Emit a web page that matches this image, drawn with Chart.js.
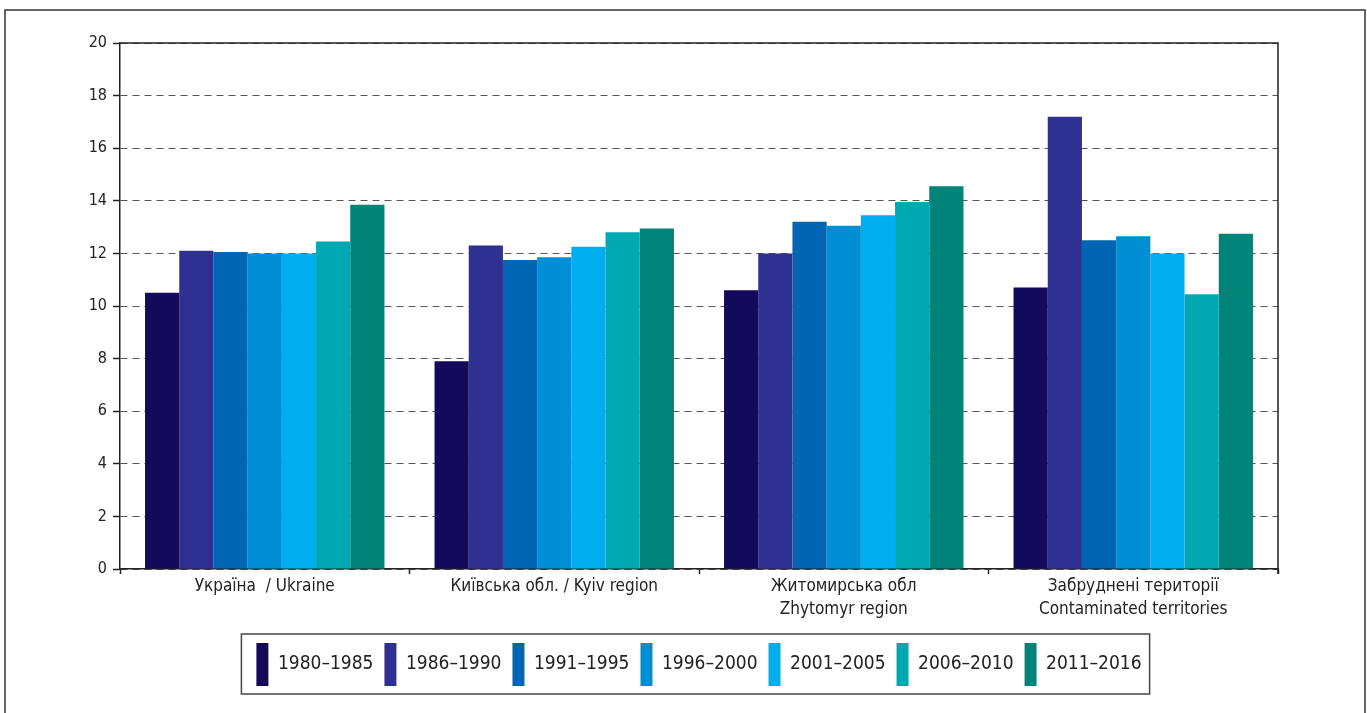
<!DOCTYPE html>
<html>
<head>
<meta charset="utf-8">
<script src="https://cdn.jsdelivr.net/npm/chart.js@4"></script>
<style>
    html, body { margin: 0; padding: 0; background: #fff; }
    #wrap { position: relative; width: 1367px; height: 713px; }
</style>
</head>
<body>
<div id="wrap"><canvas id="rateChart" width="1367" height="713"></canvas></div>
<script>
const regions = [
    ["Україна  / Ukraine"],
    ["Київська обл. / Kyiv region"],
    ["Житомирська обл", "Zhytomyr region"],
    ["Забруднені території", "Contaminated territories"]
];
const periods = ["1980–1985", "1986–1990", "1991–1995", "1996–2000", "2001–2005", "2006–2010", "2011–2016"];
const periodColors = ["#130a5c", "#2e3192", "#0066b3", "#008fd5", "#00aeef", "#00a9b2", "#008479"];

// one array per period, values for the four regions
const rates1980 = [10.5, 7.9, 10.6, 10.7];
const rates1986 = [12.1, 12.3, 12.0, 17.2];
const rates1991 = [12.05, 11.75, 13.2, 12.5];
const rates1996 = [12.0, 11.85, 13.05, 12.65];
const rates2001 = [12.0, 12.25, 13.45, 12.0];
const rates2006 = [12.45, 12.8, 13.95, 10.45];
const rates2011 = [13.85, 12.95, 14.55, 12.75];
const seriesValues = [rates1980, rates1986, rates1991, rates1996, rates2001, rates2006, rates2011];

const yTicks = [0, 2, 4, 6, 8, 10, 12, 14, 16, 18, 20];

const fontName = "'Liberation Sans Narrow', 'DejaVu Sans Condensed', sans-serif";
const inkColor = "#222";

// frames: outer border, top/right edge of plot, box round the legend
const framePlugin = {
    id: 'frames',
    afterDatasetsDraw(chart) {
        const ctx = chart.ctx;
        const area = chart.chartArea;
        ctx.save();
        ctx.strokeStyle = inkColor;
        ctx.lineWidth = 1.5;
        ctx.beginPath();
        ctx.moveTo(area.left, area.top);
        ctx.lineTo(area.right, area.top);
        ctx.lineTo(area.right, area.bottom + 5);
        ctx.stroke();
        ctx.restore();
    },
    afterDraw(chart) {
        const ctx = chart.ctx;
        ctx.save();
        ctx.strokeStyle = "#333";
        ctx.lineWidth = 1.5;
        ctx.strokeRect(5, 10, 1360, 760);

        const boxes = chart.legend.legendHitBoxes;
        if (boxes && boxes.length) {
            const first = boxes[0];
            const last = boxes[boxes.length - 1];
            const left = first.left - 15;
            const right = last.left + last.width + 8;
            const top = first.top - 9;
            const bottom = first.top + first.height + 8;
            ctx.lineWidth = 1.5;
            ctx.strokeStyle = "#444";
            ctx.strokeRect(left, top, right - left, bottom - top);
        }
        ctx.restore();
    }
};

new Chart('rateChart', {
    type: 'bar',
    data: {
        labels: regions,
        datasets: periods.map((period, i) => ({
            label: period,
            data: seriesValues[i],
            backgroundColor: periodColors[i],
            borderWidth: 0,
            categoryPercentage: 0.827,
            barPercentage: 1
        }))
    },
    options: {
        responsive: false,
        animation: false,
        layout: {
            padding: { top: 43, right: 89, bottom: 17, left: 0 }
        },
        scales: {
            x: {
                grid: {
                    drawOnChartArea: false,
                    drawTicks: true,
                    tickLength: 5,
                    tickColor: inkColor,
                    tickWidth: 1.5
                },
                border: { color: inkColor, width: 1.5 },
                ticks: {
                    color: inkColor,
                    padding: 2,
                    maxRotation: 0,
                    autoSkip: false,
                    font: { family: fontName, size: 17, lineHeight: 1.3 }
                },
                afterFit(scale) {
                    scale.height = 63;
                }
            },
            y: {
                min: 0,
                max: 20,
                afterBuildTicks(scale) {
                    scale.ticks = yTicks.map(v => ({ value: v }));
                },
                grid: {
                    color: "#555",
                    lineWidth: 1,
                    tickLength: 7,
                    tickColor: inkColor,
                    tickWidth: 1.5,
                    tickBorderDash: []
                },
                border: { color: inkColor, width: 1.5, dash: [7, 5] },
                ticks: {
                    color: inkColor,
                    padding: 6,
                    font: { family: fontName, size: 16 }
                },
                afterFit(scale) {
                    scale.width = 120;
                }
            }
        },
        plugins: {
            legend: {
                position: 'bottom',
                fullSize: false,
                labels: {
                    color: inkColor,
                    boxWidth: 12,
                    boxHeight: 43,
                    padding: 11,
                    font: { family: fontName, size: 19 }
                }
            },
            tooltip: { enabled: false }
        }
    },
    plugins: [framePlugin]
});
</script>
</body>
</html>
